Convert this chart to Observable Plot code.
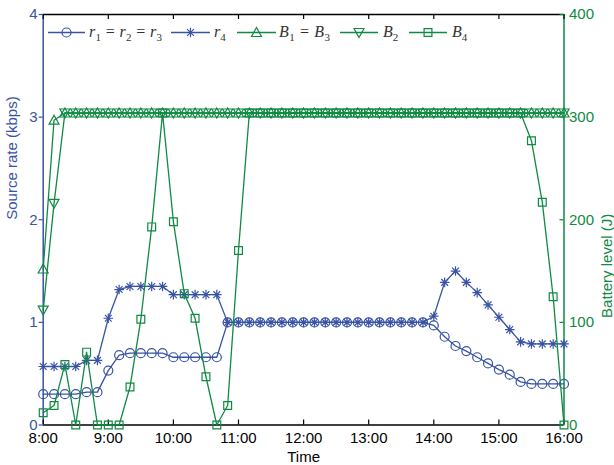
<!DOCTYPE html>
<html><head><meta charset="utf-8">
<script src="https://cdn.jsdelivr.net/npm/d3@7"></script>
<script src="https://cdn.jsdelivr.net/npm/@observablehq/plot@0.6"></script>
<style>
body{margin:0;background:#fff}
#chart{position:relative;width:614px;height:465px}
</style>
</head><body><div id="chart"></div>
<script>
// ---- data (10‑minute samples from 8:00 to 16:00) ----
const startHour = 8, stepMinutes = 10;
const hourTicks = [8, 9, 10, 11, 12, 13, 14, 15, 16];
const hourLabels = ["8:00", "9:00", "10:00", "11:00", "12:00", "13:00", "14:00", "15:00", "16:00"];
const rateTicks = [0, 1, 2, 3, 4];
const batteryTicks = [0, 100, 200, 300, 400];

const r123 = [0.30, 0.30, 0.30, 0.30, 0.32, 0.32, 0.53, 0.68, 0.70, 0.70, 0.70, 0.70,
  0.66, 0.66, 0.66, 0.66, 0.66,
  1.00, 1.00, 1.00, 1.00, 1.00, 1.00, 1.00, 1.00, 1.00, 1.00, 1.00, 1.00, 1.00, 1.00, 1.00, 1.00, 1.00, 1.00, 1.00,
  0.97, 0.86, 0.77, 0.72, 0.66, 0.60, 0.54, 0.49, 0.42, 0.40, 0.40, 0.40, 0.40];
const r4 = [0.57, 0.57, 0.57, 0.57, 0.63, 0.63, 1.04, 1.32, 1.35, 1.35, 1.35, 1.35,
  1.27, 1.27, 1.27, 1.27, 1.27,
  1.00, 1.00, 1.00, 1.00, 1.00, 1.00, 1.00, 1.00, 1.00, 1.00, 1.00, 1.00, 1.00, 1.00, 1.00, 1.00, 1.00, 1.00, 1.00,
  1.06, 1.39, 1.50, 1.39, 1.29, 1.17, 1.05, 0.93, 0.81, 0.79, 0.79, 0.79, 0.79];
const B13 = [152, 297, 304, 304, 304, 304, 304, 304, 304, 304, 304, 304, 304, 304, 304, 304, 304,
  304, 304, 304, 304, 304, 304, 304, 304, 304, 304, 304, 304, 304, 304, 304, 304, 304, 304, 304,
  304, 304, 304, 304, 304, 304, 304, 304, 304, 304, 304, 304, 304];
const B2 = [112, 216, 304, 304, 304, 304, 304, 304, 304, 304, 304, 304, 304, 304, 304, 304, 304,
  304, 304, 304, 304, 304, 304, 304, 304, 304, 304, 304, 304, 304, 304, 304, 304, 304, 304, 304,
  304, 304, 304, 304, 304, 304, 304, 304, 304, 304, 304, 304, 304];
const B4 = [12, 19, 59, 0, 71, 0, 0, 0, 37, 103, 193, 304, 198, 128, 104, 47, 0, 19, 170,
  304, 304, 304, 304, 304, 304, 304, 304, 304, 304, 304, 304, 304, 304, 304, 304, 304, 304, 304, 304, 304, 304, 304, 304, 304, 304,
  277, 217, 125, 0];

const BLUE = "#3953a4", GREEN = "#0f8a43";
const batteryPerRate = 100; // right axis (J) = left axis (kbps) * 100

const time = r123.map((_, i) => startHour + i * stepMinutes / 60);
const rows = (vals, k = 1) => vals.map((v, i) => ({t: time[i], v: v / k}));

// ---- marker shapes (MATLAB-like) ----
const rOf = s => Math.sqrt(s / Math.PI);
const symStar = {draw(c, s) { const r = rOf(s), d = r * Math.SQRT1_2;
  c.moveTo(-r, 0); c.lineTo(r, 0); c.moveTo(0, -r); c.lineTo(0, r);
  c.moveTo(-d, -d); c.lineTo(d, d); c.moveTo(-d, d); c.lineTo(d, -d); }};
const symUp = {draw(c, s) { const r = rOf(s);
  c.moveTo(0, -r); c.lineTo(r, r * 0.8); c.lineTo(-r, r * 0.8); c.closePath(); }};
const symDown = {draw(c, s) { const r = rOf(s);
  c.moveTo(0, r); c.lineTo(r, -r * 0.8); c.lineTo(-r, -r * 0.8); c.closePath(); }};
const symSquare = {draw(c, s) { const h = rOf(s) * 0.85; c.rect(-h, -h, 2 * h, 2 * h); }};

const series = [
  {data: r123, k: 1, color: BLUE, symbol: "circle", r: 4.5},
  {data: r4, k: 1, color: BLUE, symbol: symStar, r: 4.8},
  {data: B13, k: batteryPerRate, color: GREEN, symbol: symUp, r: 5},
  {data: B2, k: batteryPerRate, color: GREEN, symbol: symDown, r: 5},
  {data: B4, k: batteryPerRate, color: GREEN, symbol: symSquare, r: 4.6}
];

const tx = 5 / 65, ty = 5 / 102.6; // tick lengths in scale units

const marks = [
  Plot.ruleY([0, 4], {stroke: "#000", strokeWidth: 1.3}),
  Plot.ruleX([startHour], {stroke: BLUE, strokeWidth: 1.5}),
  Plot.ruleX([16], {stroke: GREEN, strokeWidth: 1.5}),
  Plot.ruleX(hourTicks, {y1: 0, y2: ty, stroke: "#000", strokeWidth: 1.2}),
  Plot.ruleX(hourTicks, {y1: 4, y2: 4 - ty, stroke: "#000", strokeWidth: 1.2}),
  Plot.ruleY(rateTicks, {x1: startHour, x2: startHour - tx * 0.8, stroke: BLUE, strokeWidth: 1.2}),
  Plot.ruleY(rateTicks, {x1: 16, x2: 16 - tx * 0.8, stroke: GREEN, strokeWidth: 1.2}),
  Plot.axisX({ticks: hourTicks, tickFormat: d => hourLabels[hourTicks.indexOf(d)], tickSize: 0, tickPadding: 7, label: null, color: "#000"}),
  Plot.axisY({ticks: rateTicks, tickFormat: d => String(d), tickSize: 0, tickPadding: 5.5, label: null, color: BLUE}),
  Plot.axisY({anchor: "right", ticks: batteryTicks.map(b => b / batteryPerRate), tickFormat: d => String(Math.round(d * batteryPerRate)), tickSize: 0, tickPadding: 5, label: null, color: GREEN}),
  Plot.text(["Time"], {frameAnchor: "bottom", dy: 32.5, lineAnchor: "middle", fill: "#000"}),
  Plot.text(["Source rate (kbps)"], {frameAnchor: "left", dx: -31, rotate: -90, lineAnchor: "middle", fill: BLUE}),
  Plot.text(["Battery level (J)"], {frameAnchor: "right", dx: 43, dy: -6, rotate: -90, lineAnchor: "middle", fill: GREEN})
];
for (const s of series) {
  const d = rows(s.data, s.k);
  marks.push(Plot.line(d, {x: "t", y: "v", stroke: s.color, strokeWidth: 1.3}));
  marks.push(Plot.dot(d, {x: "t", y: "v", symbol: s.symbol, r: s.r, stroke: s.color, fill: "none", strokeWidth: 1.2}));
}

const plot = Plot.plot({
  width: 614, height: 465,
  marginLeft: 42.7, marginRight: 50.5, marginTop: 14, marginBottom: 40.5,
  style: {fontFamily: "'Liberation Sans', Arial, Helvetica, sans-serif", fontSize: "15px", background: "#fff", overflow: "visible"},
  x: {domain: [startHour, 16]},
  y: {domain: [0, 4]},
  marks
});
document.getElementById("chart").appendChild(plot);

// ---- legend (inside plot, top) ----
const legendItems = [
  {x0: 48, x1: 85, tx: 89, symbol: d3.symbolCircle, r: 4.5, color: BLUE, parts: [["r","1"],["r","2"],["r","3"]], len: 73},
  {x0: 171, x1: 210, tx: 214, symbol: symStar, r: 4.8, color: BLUE, parts: [["r","4"]]},
  {x0: 237, x1: 276, tx: 279, symbol: symUp, r: 5, color: GREEN, parts: [["B","1"],["B","3"]], len: 51},
  {x0: 340, x1: 378, tx: 383, symbol: symDown, r: 5, color: GREEN, parts: [["B","2"]]},
  {x0: 409, x1: 447, tx: 452, symbol: symSquare, r: 4.6, color: GREEN, parts: [["B","4"]]}
];
const svg = d3.select(plot);
const lg = svg.append("g").attr("class", "legend").attr("text-anchor", "start");
const ly = 32.5;
for (const it of legendItems) {
  lg.append("line").attr("x1", it.x0).attr("x2", it.x1).attr("y1", ly).attr("y2", ly)
    .attr("stroke", it.color).attr("stroke-width", 1.3);
  lg.append("path").attr("d", d3.symbol(it.symbol, Math.PI * it.r * it.r)())
    .attr("transform", `translate(${(it.x0 + it.x1) / 2},${ly})`)
    .attr("fill", "none").attr("stroke", it.color).attr("stroke-width", 1.2);
  const t = lg.append("text").attr("x", it.tx).attr("y", ly + 4.5).attr("text-anchor", "start")
    .attr("fill", "#333").style("font-family", "'Liberation Serif','DejaVu Serif',serif").style("font-size", "16px");
  if (it.len) t.attr("textLength", it.len).attr("lengthAdjust", "spacing");
  it.parts.forEach((p, i) => {
    if (i > 0) t.append("tspan").attr("dy", -4).text(" = ");
    t.append("tspan").style("font-style", "italic").text(p[0]);
    t.append("tspan").attr("dy", 4).style("font-size", "11px").text(p[1]);
  });
}
</script>
</body></html>
